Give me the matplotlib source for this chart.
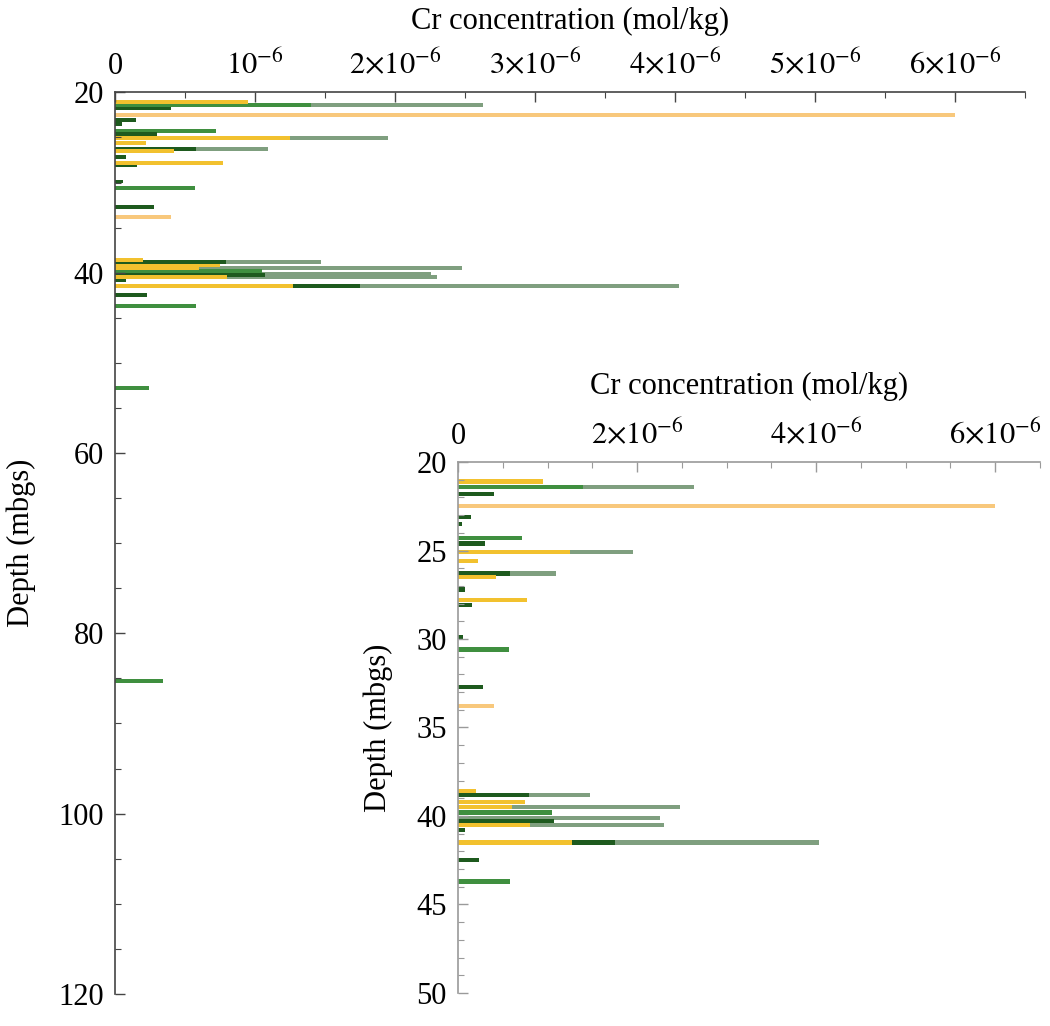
import matplotlib
matplotlib.use("Agg")
import matplotlib.pyplot as plt
from matplotlib.ticker import FixedLocator, FixedFormatter, MultipleLocator

plt.rcParams['font.family'] = ['Liberation Serif', 'DejaVu Serif']
plt.rcParams['mathtext.fontset'] = 'stix'

# ---- data (depth in mbgs, Cr concentration in mol/kg) ----
graygreen_depth = [21.4, 25.1, 26.3, 38.8, 39.5, 40.1, 40.5, 41.5]
graygreen_conc = [2.63e-6, 1.95e-6, 1.09e-6, 1.47e-6, 2.48e-6, 2.26e-6, 2.30e-6, 4.03e-6]

green_depth = [21.4, 24.3, 30.6, 39.8, 43.7, 52.8, 85.3]
green_conc = [1.40e-6, 0.72e-6, 0.57e-6, 1.05e-6, 0.58e-6, 0.24e-6, 0.34e-6]

darkgreen_depth = [21.8, 23.1, 23.5, 24.6, 26.3, 27.2, 28.1, 29.9, 32.7, 38.8, 40.3, 40.8, 41.5, 42.5]
darkgreen_conc = [0.40e-6, 0.15e-6, 0.05e-6, 0.30e-6, 0.58e-6, 0.08e-6, 0.16e-6, 0.06e-6, 0.28e-6,
                  0.79e-6, 1.07e-6, 0.08e-6, 1.75e-6, 0.23e-6]

yellow_depth = [21.1, 25.1, 25.6, 26.5, 27.8, 38.6, 39.2, 39.5, 40.5, 41.5]
yellow_conc = [0.95e-6, 1.25e-6, 0.22e-6, 0.42e-6, 0.77e-6, 0.20e-6, 0.75e-6, 0.60e-6, 0.80e-6, 1.27e-6]

orange_depth = [22.5, 33.8]
orange_conc = [6.0e-6, 0.40e-6]

x_ticks_main = [0, 1e-6, 2e-6, 3e-6, 4e-6, 5e-6, 6e-6]
x_labels_main = ['0', r'$10^{-6}$', r'$2{\times}10^{-6}$', r'$3{\times}10^{-6}$',
                 r'$4{\times}10^{-6}$', r'$5{\times}10^{-6}$', r'$6{\times}10^{-6}$']
x_ticks_inset = [0, 2e-6, 4e-6, 6e-6]
x_labels_inset = ['0', r'$2{\times}10^{-6}$', r'$4{\times}10^{-6}$', r'$6{\times}10^{-6}$']

x_title = 'Cr concentration (mol/kg)'
y_title = 'Depth (mbgs)'

series = [
    (graygreen_depth, graygreen_conc, '#7f9f7f'),
    (green_depth, green_conc, '#3f8f3f'),
    (darkgreen_depth, darkgreen_conc, '#1e5a1e'),
    (yellow_depth, yellow_conc, '#f2c12e'),
    (orange_depth, orange_conc, '#f8c87c'),
]

fig = plt.figure(figsize=(10.5, 10.26), dpi=100)

FS = 22

def style(ax, spine_color, ymaj, ymin, xt, xl, xminor, barh_height, xpad, ypad):
    for d, c, col in series:
        ax.barh(d, c, height=barh_height, color=col, edgecolor='none', align='center')
    ax.set_xlim(0, 6.5e-6)
    ax.invert_yaxis()
    ax.xaxis.tick_top()
    ax.xaxis.set_label_position('top')
    ax.xaxis.set_major_locator(FixedLocator(xt))
    ax.xaxis.set_major_formatter(FixedFormatter(xl))
    ax.xaxis.set_minor_locator(MultipleLocator(xminor))
    ax.yaxis.set_major_locator(MultipleLocator(ymaj))
    ax.yaxis.set_minor_locator(MultipleLocator(ymin))
    for s in ['right', 'bottom']:
        ax.spines[s].set_visible(False)
    for s in ['left', 'top']:
        ax.spines[s].set_color(spine_color)
        ax.spines[s].set_linewidth(1.2)
    ax.tick_params(which='both', direction='in', color=spine_color, labelsize=FS,
                   top=True, bottom=False, left=True, right=False)
    ax.tick_params(which='major', length=7, width=1.0, pad=8)
    ax.tick_params(which='minor', length=4, width=0.8)
    ax.set_xlabel(x_title, fontsize=FS, labelpad=xpad)
    ax.set_ylabel(y_title, fontsize=FS, labelpad=ypad)

ax = fig.add_axes([0.1095, 0.0312, 0.8667, 0.8788])
ax.set_ylim(20, 120)
style(ax, '#444444', 20, 5, x_ticks_main, x_labels_main, 0.5e-6, 0.42, 15, 16)

ins = fig.add_axes([0.4362, 0.0322, 0.5543, 0.5175])
ins.set_ylim(20, 50)
style(ins, '#9a9a9a', 5, 1, x_ticks_inset, x_labels_inset, 0.5e-6, 0.24, 18, 17)

fig.savefig('out.png', dpi=100)
